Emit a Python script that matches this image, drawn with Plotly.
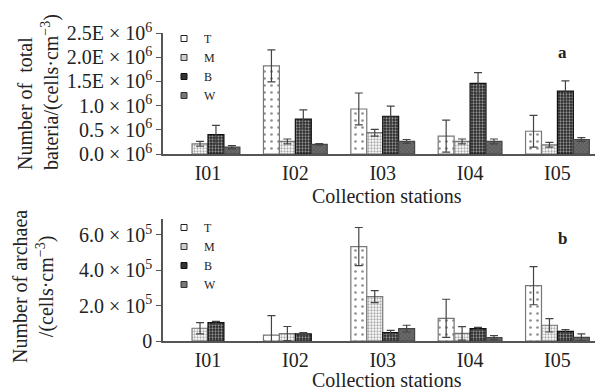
import plotly.graph_objects as go

stations = ["I01", "I02", "I03", "I04", "I05"]
series = ["T", "M", "B", "W"]

# Panel a: total bacteria (x 1e6 cells/cm3)
bact_T = [None, 1.82, 0.93, 0.37, 0.47]
bact_T_err = [None, 0.33, 0.33, 0.33, 0.33]
bact_M = [0.21, 0.26, 0.44, 0.26, 0.19]
bact_M_err = [0.05, 0.05, 0.07, 0.05, 0.05]
bact_B = [0.40, 0.72, 0.78, 1.46, 1.30]
bact_B_err = [0.19, 0.19, 0.21, 0.22, 0.21]
bact_W = [0.14, 0.20, 0.26, 0.26, 0.30]
bact_W_err = [0.035, 0.015, 0.04, 0.05, 0.04]

# Panel b: archaea (x 1e5 cells/cm3)
arch_T = [None, 0.33, 5.34, 1.28, 3.13]
arch_T_err = [None, 1.10, 1.08, 1.08, 1.08]
arch_M = [0.72, 0.42, 2.51, 0.43, 0.89]
arch_M_err = [0.32, 0.40, 0.34, 0.38, 0.38]
arch_B = [1.04, 0.40, 0.47, 0.70, 0.55]
arch_B_err = [0.07, 0.07, 0.13, 0.07, 0.09]
arch_W = [None, None, 0.70, 0.19, 0.21]
arch_W_err = [None, None, 0.19, 0.11, 0.19]

top_ticks = [0.0, 0.5, 1.0, 1.5, 2.0, 2.5]
top_ticktext = ["0.0 × 10<sup>6</sup>", "0.5 × 10<sup>6</sup>", "1.0 × 10<sup>6</sup>",
                "1.5E × 10<sup>6</sup>", "2.0E × 10<sup>6</sup>", "2.5E × 10<sup>6</sup>"]
bot_ticks = [0, 2, 4, 6]
bot_ticktext = ["0", "2.0 × 10<sup>5</sup>", "4.0 × 10<sup>5</sup>", "6.0 × 10<sup>5</sup>"]

FONT = "Liberation Serif, Times New Roman, serif"
W, H = 595, 391

styles = {
    "T": dict(pattern=dict(shape=".", bgcolor="white", fgcolor="#222", size=7, solidity=0.12),
              line="#777", leg_fill="white", leg_line="#222"),
    "M": dict(pattern=dict(shape=".", bgcolor="white", fgcolor="#555", size=3, solidity=0.45),
              line="#777", leg_fill="#d0d0d0", leg_line="#333"),
    "B": dict(pattern=dict(shape=".", bgcolor="#222", fgcolor="white", size=3, solidity=0.45),
              line="#111", leg_fill="#333", leg_line="#111"),
    "W": dict(pattern=dict(shape="x", bgcolor="#6a6a6a", fgcolor="#333", size=3, solidity=0.3),
              line="#444", leg_fill="#777", leg_line="#333"),
}

fig = go.Figure()

panels = [
    ("x", "y", [bact_T, bact_M, bact_B, bact_W], [bact_T_err, bact_M_err, bact_B_err, bact_W_err], "legend"),
    ("x2", "y2", [arch_T, arch_M, arch_B, arch_W], [arch_T_err, arch_M_err, arch_B_err, arch_W_err], "legend2"),
]

for xa, ya, vals, errs, leg in panels:
    for s, v, e in zip(series, vals, errs):
        st = styles[s]
        fig.add_trace(go.Bar(
            x=stations, y=v, name=s, xaxis=xa, yaxis=ya, offsetgroup=s,
            marker=dict(color=st["pattern"]["bgcolor"], pattern=st["pattern"],
                        line=dict(color=st["line"], width=1.2)),
            error_y=dict(type="data", array=e, visible=True, color="#444", thickness=1.2, width=4),
            showlegend=False,
        ))
    for s in series:
        st = styles[s]
        fig.add_trace(go.Scatter(
            x=[None], y=[None], mode="markers", name=s, xaxis=xa, yaxis=ya, legend=leg,
            marker=dict(symbol="square", size=6, color=st["leg_fill"],
                        line=dict(color=st["leg_line"], width=1)),
        ))

def py(p):
    return 1 - p / H

def px(p):
    return p / W

axis_common = dict(showgrid=False, zeroline=False, showline=True, linecolor="#555", linewidth=1.5,
                   automargin=False)

fig.update_layout(
    width=W, height=H, autosize=False,
    margin=dict(l=0, r=0, t=0, b=0, pad=0),
    paper_bgcolor="white", plot_bgcolor="white",
    font=dict(family=FONT, size=20, color="#222"),
    barmode="group", bargap=0.27, bargroupgap=0,
    xaxis=dict(domain=[px(163), 1], anchor="y", range=[-0.515, 4.43], ticks="",
               tickfont=dict(size=20), **axis_common),
    yaxis=dict(domain=[py(154), py(33)], anchor="x", range=[0, 2.5], tickvals=top_ticks,
               ticktext=top_ticktext, ticks="outside", ticklen=5, tickcolor="#555",
               tickfont=dict(size=20), **axis_common),
    xaxis2=dict(domain=[px(163), 1], anchor="y2", range=[-0.515, 4.43], ticks="",
                tickfont=dict(size=20), **axis_common),
    yaxis2=dict(domain=[py(341), py(219)], anchor="x2", range=[0, 6.9], tickvals=bot_ticks,
                ticktext=bot_ticktext, ticks="outside", ticklen=5, tickcolor="#555",
                tickfont=dict(size=20), **axis_common),
    legend=dict(x=px(164), y=py(24), xanchor="left", yanchor="top", bgcolor="rgba(0,0,0,0)",
                font=dict(size=12), itemwidth=30, tracegroupgap=0),
    legend2=dict(x=px(164), y=py(213), xanchor="left", yanchor="top", bgcolor="rgba(0,0,0,0)",
                 font=dict(size=12), itemwidth=30, tracegroupgap=0),
)

annotations = [
    dict(text="Number of  total<br>bateria/(cells·cm<sup>−3</sup>)", x=px(38), y=py(92),
         textangle=-90, align="left", font=dict(size=20)),
    dict(text="Number of archaea<br>/(cells·cm<sup>−3</sup>)", x=px(33), y=py(287),
         textangle=-90, align="center", font=dict(size=20)),
    dict(text="Collection stations", x=px(387), y=py(196), font=dict(size=20)),
    dict(text="Collection stations", x=px(387), y=py(380), font=dict(size=20)),
    dict(text="<b>a</b>", x=px(562), y=py(52), font=dict(size=17)),
    dict(text="<b>b</b>", x=px(562), y=py(238), font=dict(size=17)),
]
for a in annotations:
    a.update(xref="paper", yref="paper", xanchor="center", yanchor="middle", showarrow=False)
fig.update_layout(annotations=annotations)

fig.write_html("out.html", config={"displayModeBar": False},
               post_script="document.body.style.margin='0px';")
